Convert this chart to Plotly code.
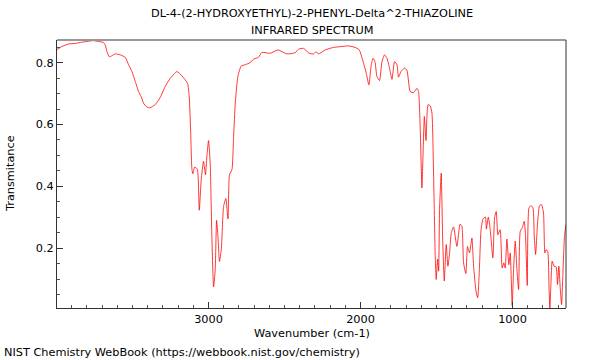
import plotly.graph_objects as go

wavenumber = [3997, 3965, 3921, 3877, 3833, 3789, 3757, 3724, 3691, 3680, 3668, 3653, 3636, 3614, 3581,
              3548, 3526, 3504, 3482, 3460, 3443, 3428, 3405, 3384, 3351, 3318, 3285, 3252, 3208, 3175,
              3138, 3127, 3118, 3109, 3103, 3092, 3074, 3061, 3048, 3033, 3020, 3011, 3000, 2989, 2978,
              2967, 2956, 2947, 2938, 2928, 2916, 2901, 2886, 2872, 2862, 2846, 2835, 2824, 2807, 2785,
              2759, 2726, 2704, 2671, 2649, 2594, 2543, 2484, 2430, 2408, 2375, 2338, 2309, 2293, 2276,
              2232, 2178, 2122, 2078, 2035, 2013, 2005, 1980, 1962, 1945, 1931, 1918, 1905, 1892, 1875,
              1859, 1842, 1826, 1809, 1793, 1776, 1760, 1750, 1734, 1712, 1695, 1673, 1651, 1628, 1618,
              1607, 1596, 1589, 1580, 1569, 1556, 1541, 1530, 1519, 1509, 1502, 1493, 1486, 1480, 1469,
              1460, 1449, 1436, 1425, 1414, 1403, 1388, 1366, 1351, 1345, 1333, 1322, 1307, 1296, 1283,
              1267, 1256, 1240, 1229, 1218, 1207, 1194, 1178, 1172, 1159, 1147, 1129, 1118, 1107, 1096,
              1081, 1068, 1057, 1048, 1037, 1024, 1015, 1002, 993, 982, 971, 960, 949, 936, 923,
              914, 903, 892, 878, 865, 857, 848, 835, 822, 809, 796, 787, 778, 768, 760,
              754, 747, 739, 726, 713, 704, 695, 686, 677, 669, 658, 648]
transmittance = [0.842, 0.852, 0.860, 0.862, 0.866, 0.869, 0.871, 0.868, 0.865, 0.857, 0.835, 0.819, 0.822, 0.828, 0.825,
                 0.817, 0.793, 0.771, 0.739, 0.706, 0.690, 0.669, 0.656, 0.654, 0.664, 0.687, 0.723, 0.749, 0.771, 0.757,
                 0.733, 0.690, 0.583, 0.454, 0.441, 0.462, 0.456, 0.323, 0.422, 0.481, 0.438, 0.497, 0.548, 0.475, 0.239,
                 0.075, 0.131, 0.290, 0.239, 0.157, 0.196, 0.335, 0.361, 0.295, 0.438, 0.454, 0.561, 0.669, 0.755, 0.789,
                 0.793, 0.800, 0.811, 0.817, 0.833, 0.830, 0.841, 0.828, 0.832, 0.843, 0.846, 0.830, 0.828, 0.835, 0.828,
                 0.841, 0.849, 0.852, 0.854, 0.849, 0.843, 0.838, 0.798, 0.765, 0.728, 0.787, 0.814, 0.803, 0.755, 0.742,
                 0.803, 0.825, 0.814, 0.782, 0.746, 0.803, 0.793, 0.753, 0.771, 0.782, 0.776, 0.706, 0.703, 0.717, 0.706,
                 0.583, 0.395, 0.497, 0.626, 0.548, 0.664, 0.660, 0.637, 0.432, 0.185, 0.099, 0.165, 0.126, 0.325, 0.443,
                 0.239, 0.094, 0.212, 0.142, 0.185, 0.249, 0.269, 0.206, 0.262, 0.278, 0.271, 0.153, 0.118, 0.206, 0.185,
                 0.233, 0.142, 0.061, 0.040, 0.131, 0.260, 0.295, 0.301, 0.262, 0.301, 0.262, 0.169, 0.298, 0.319, 0.244,
                 0.260, 0.136, 0.153, 0.136, 0.230, 0.147, 0.185, 0.015, 0.131, 0.223, 0.131, 0.067, 0.255, 0.266, 0.287,
                 0.239, 0.080, 0.330, 0.338, 0.330, 0.239, 0.180, 0.282, 0.338, 0.341, 0.314, 0.185, 0.196, 0.190, 0.077,
                 0.007, 0.088, 0.158, 0.142, 0.140, 0.083, 0.142, 0.072, 0.018, 0.110, 0.239, 0.276]

x_ticks = [1000, 2000, 3000]
y_ticks = [0.2, 0.4, 0.6, 0.8]

title_line1 = "DL-4-(2-HYDROXYETHYL)-2-PHENYL-Delta^2-THIAZOLINE"
title_line2 = "INFRARED SPECTRUM"
x_label = "Wavenumber (cm-1)"
y_label = "Transmitance"
footer = "NIST Chemistry WebBook (https://webbook.nist.gov/chemistry)"

font = "DejaVu Sans"
fs = 11.3

fig = go.Figure()
fig.add_trace(go.Scatter(
    x=wavenumber, y=transmittance, mode="lines",
    line=dict(color="rgba(255,0,0,0.78)", width=1, shape="spline", smoothing=0.5),
    hoverinfo="skip", showlegend=False,
))

fig.update_layout(
    width=600, height=360,
    margin=dict(l=57, r=34, t=40, b=52),
    paper_bgcolor="white", plot_bgcolor="white",
    font=dict(family=font, size=fs, color="#000"),
    showlegend=False,
    xaxis=dict(
        range=[3997, 648], tickvals=x_ticks, ticktext=[str(v) for v in x_ticks],
        ticks="inside", ticklen=6, tickwidth=1, tickcolor="#333",
        minor=dict(dtick=100, ticks="inside", ticklen=3, tickcolor="#555", tick0=0),
        showgrid=False, zeroline=False,
        showline=True, linecolor="#333", linewidth=1, mirror=False,
        tickfont=dict(size=fs, family=font),
    ),
    yaxis=dict(
        range=[0.007, 0.873], tickvals=y_ticks, ticktext=["0.2", "0.4", "0.6", "0.8"],
        ticks="inside", ticklen=6, tickwidth=1, tickcolor="#333",
        minor=dict(dtick=0.05, ticks="inside", ticklen=3, tickcolor="#555", tick0=0),
        showgrid=False, zeroline=False,
        showline=True, linecolor="#333", linewidth=1, mirror=False,
        tickfont=dict(size=fs, family=font),
    ),
    shapes=[
        dict(type="line", xref="paper", yref="paper", x0=0, x1=1, y0=1, y1=1,
             line=dict(color="#999", width=2)),
        dict(type="line", xref="paper", yref="paper", x0=1, x1=1, y0=0, y1=1,
             line=dict(color="#333", width=1)),
    ],
    annotations=[
        dict(text=title_line1, xref="paper", yref="paper", x=0.5, y=1, yanchor="middle",
             yshift=27, showarrow=False, font=dict(size=fs, family=font)),
        dict(text=title_line2, xref="paper", yref="paper", x=0.5, y=1, yanchor="middle",
             yshift=10, showarrow=False, font=dict(size=fs, family=font)),
        dict(text=x_label, xref="paper", yref="paper", x=0.5, y=0, yanchor="middle",
             yshift=-25, showarrow=False, font=dict(size=fs, family=font)),
        dict(text=y_label, xref="paper", yref="paper", x=0, y=0.5, xanchor="center",
             xshift=-47, textangle=-90, showarrow=False, font=dict(size=fs, family=font)),
        dict(text=footer, xref="paper", yref="paper", x=0, y=0, xanchor="left", yanchor="middle",
             xshift=-55, yshift=-44, showarrow=False, font=dict(size=fs, family=font)),
    ],
)

fig.write_html("out.html", config={"displayModeBar": False},
               post_script="document.body.style.margin='0px';")
